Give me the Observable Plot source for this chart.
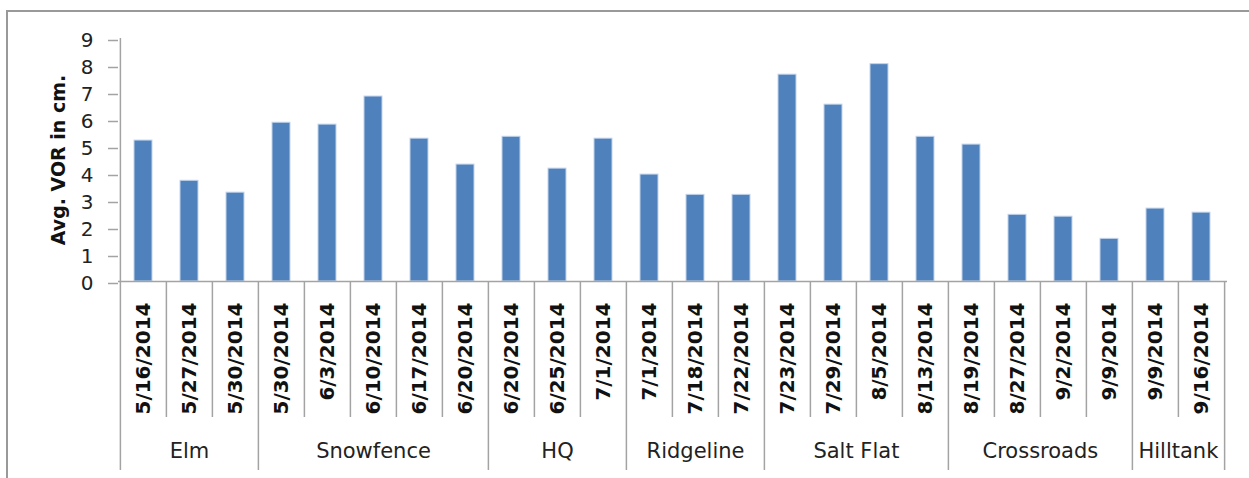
<!DOCTYPE html>
<html>
<head>
<meta charset="utf-8">
<script src="https://cdn.jsdelivr.net/npm/d3@7"></script>
<script src="https://cdn.jsdelivr.net/npm/@observablehq/plot@0.6"></script>
<style>
  html, body { margin: 0; padding: 0; background: #fff; }
  #wrap { position: relative; width: 1249px; height: 478px; overflow: hidden; }
  #border { position: absolute; left: 6px; top: 10px; width: 1300px; height: 600px;
            border-left: 2px solid #999; border-top: 2px solid #999; pointer-events: none; }
</style>
</head>
<body>
<div id="wrap"><div id="border"></div></div>
<script>
const sites = ["Elm","Elm","Elm","Snowfence","Snowfence","Snowfence","Snowfence","Snowfence","HQ","HQ","HQ","Ridgeline","Ridgeline","Ridgeline","Salt Flat","Salt Flat","Salt Flat","Salt Flat","Crossroads","Crossroads","Crossroads","Crossroads","Hilltank","Hilltank"];
const dates = ["5/16/2014","5/27/2014","5/30/2014","5/30/2014","6/3/2014","6/10/2014","6/17/2014","6/20/2014","6/20/2014","6/25/2014","7/1/2014","7/1/2014","7/18/2014","7/22/2014","7/23/2014","7/29/2014","8/5/2014","8/13/2014","8/19/2014","8/27/2014","9/2/2014","9/9/2014","9/9/2014","9/16/2014"];
const values = [5.22,3.73,3.29,5.88,5.81,6.85,5.29,4.33,5.36,4.18,5.29,3.96,3.21,3.21,7.66,6.55,8.05,5.36,5.07,2.47,2.40,1.58,2.70,2.55];
const yTicks = [0,1,2,3,4,5,6,7,8,9];
const yTitle = "Avg. VOR in cm.";

const W = 1249, H = 478, mL = 118, mR = 22, mT = 38, mB = 197;
const frameH = H - mT - mB;
const step = (W - mL - mR) / dates.length;

const rows = dates.map((d, i) => ({key: sites[i] + "|" + d, site: sites[i], date: d, value: values[i], i}));
const keys = rows.map(r => r.key);
const innerSeps = rows.filter(r => r.i > 0 && r.site === sites[r.i - 1]);
const groupStarts = rows.filter(r => r.i === 0 || r.site !== sites[r.i - 1]);

const groups = [];
rows.forEach(r => {
  const g = groups.find(g => g.site === r.site);
  if (g) g.count++; else groups.push({site: r.site, start: r.i, count: 1});
});
const oddGroups = groups.filter(g => g.count % 2 === 1).map(g => ({site: g.site, key: keys[g.start + (g.count - 1) / 2]}));
const evenGroups = groups.filter(g => g.count % 2 === 0).map(g => ({site: g.site, key: keys[g.start + g.count / 2]}));

const sepColor = "#a3a3a3";

const chart = Plot.plot({
  width: W, height: H,
  marginLeft: mL, marginRight: mR, marginTop: mT, marginBottom: mB,
  style: {fontFamily: "DejaVu Sans", fontSize: "20px", background: "transparent"},
  x: {type: "band", domain: keys, paddingInner: 0.6, paddingOuter: 0.3, axis: null},
  y: {domain: [0, 9], axis: null},
  marks: [
    Plot.barY(rows, {x: "key", y: "value", fill: "#4F81BD", stroke: "#c3d4ea", strokeWidth: 1}),
    // y axis line and ticks
    Plot.ruleX([keys[0]], {dx: -step / 2, stroke: sepColor, strokeWidth: 1.5}),
    Plot.axisY(yTicks, {tickSize: 10, tickPadding: 15, stroke: sepColor, strokeWidth: 1.5, fill: "#222", fontSize: 20, dy: 2, label: null}),
    // x axis line
    Plot.ruleY([0], {stroke: sepColor, strokeWidth: 1.5}),
    // category separators
    Plot.ruleX(innerSeps, {x: "key", dx: -step / 2, insetTop: frameH, insetBottom: -136, stroke: sepColor, strokeWidth: 1.5}),
    Plot.ruleX(groupStarts, {x: "key", dx: -step / 2, insetTop: frameH, insetBottom: -189, stroke: sepColor, strokeWidth: 1.5}),
    Plot.ruleX([keys[keys.length - 1]], {dx: step / 2, insetTop: frameH, insetBottom: -189, stroke: sepColor, strokeWidth: 1.5}),
    // date labels
    Plot.text(rows, {x: "key", text: "date", frameAnchor: "bottom", dy: 21, rotate: -90, textAnchor: "end", lineAnchor: "middle", fontWeight: "bold", fontSize: 20, fill: "#111"}),
    // group labels
    Plot.text(oddGroups, {x: "key", text: "site", frameAnchor: "bottom", dy: 176, fontSize: 21, fill: "#222"}),
    Plot.text(evenGroups, {x: "key", text: "site", frameAnchor: "bottom", dy: 176, dx: -step / 2, fontSize: 21, fill: "#222"}),
    // y title
    Plot.text([yTitle], {frameAnchor: "left", dx: -60, rotate: -90, textAnchor: "middle", lineAnchor: "middle", fontWeight: "bold", fontSize: 19, fill: "#111"})
  ]
});
document.getElementById("wrap").insertBefore(chart, document.getElementById("border"));
</script>
</body>
</html>
